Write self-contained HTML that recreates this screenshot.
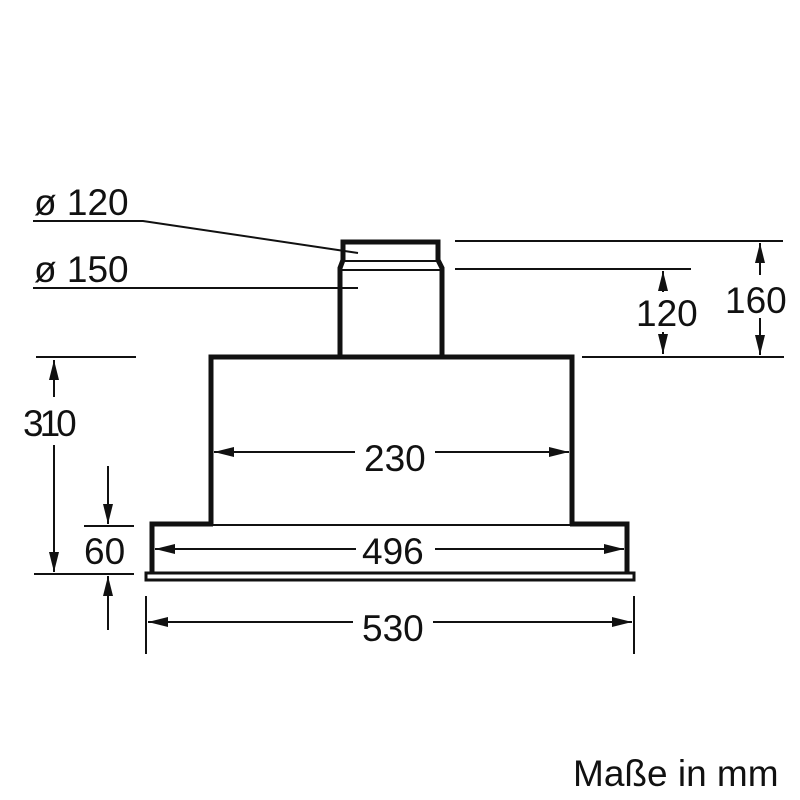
<!DOCTYPE html>
<html><head><meta charset="utf-8"><style>
html,body{margin:0;padding:0;background:#fff;}
svg{display:block}
text{font-family:"Liberation Sans",Arial,sans-serif;fill:#111;}
</style></head><body>
<svg width="800" height="800" viewBox="0 0 800 800" xmlns="http://www.w3.org/2000/svg">
<defs>
<marker id="a" viewBox="0 0 20 10" refX="20" refY="5" markerWidth="20" markerHeight="10" markerUnits="userSpaceOnUse" orient="auto-start-reverse"><path d="M0,0 L20,5 L0,10 z" fill="#111"/></marker>
</defs>
<g stroke="#111" fill="none">
<path d="M343,260 L343,242 L438,242 L438,260 L442,268 L442,357" stroke-width="5"/>
<path d="M343,260 L340,268 L340,357" stroke-width="5"/>
<line x1="343" y1="261" x2="438" y2="261" stroke-width="2"/>
<line x1="342" y1="270" x2="441" y2="270" stroke-width="2"/>
<path d="M211,524 L211,357 L572,357 L572,524" stroke-width="5"/>
<line x1="211" y1="357" x2="572" y2="357" stroke-width="2"/>
<path d="M152,573 L152,524 L213,524 M570,524 L627,524 L627,573" stroke-width="5"/>
<line x1="213" y1="525" x2="570" y2="525" stroke-width="2"/>
<rect x="146" y="573" width="488" height="7" stroke-width="3"/>
<line x1="152" y1="573" x2="627" y2="573" stroke-width="2"/>
<polyline points="33,221 143,221 358,253" stroke-width="2"/>
<line x1="33" y1="288" x2="358" y2="288" stroke-width="2"/>
<line x1="455" y1="241" x2="783" y2="241" stroke-width="2"/>
<line x1="455" y1="269" x2="691" y2="269" stroke-width="2"/>
<line x1="582" y1="357" x2="784" y2="357" stroke-width="2"/>
<line x1="36" y1="357" x2="136" y2="357" stroke-width="2"/>
<line x1="84" y1="526" x2="134" y2="526" stroke-width="2"/>
<line x1="34" y1="574" x2="134" y2="574" stroke-width="2"/>
<line x1="146" y1="596" x2="146" y2="654" stroke-width="2"/>
<line x1="634" y1="596" x2="634" y2="654" stroke-width="2"/>
<g stroke-width="2" marker-end="url(#a)">
<line x1="663" y1="292" x2="663" y2="271"/>
<line x1="663" y1="332" x2="663" y2="354"/>
<line x1="760" y1="275" x2="760" y2="243"/>
<line x1="760" y1="318" x2="760" y2="355"/>
<line x1="54" y1="397" x2="54" y2="360"/>
<line x1="54" y1="445" x2="54" y2="572"/>
<line x1="108" y1="466" x2="108" y2="524"/>
<line x1="108" y1="630" x2="108" y2="576"/>
<line x1="355" y1="452" x2="214" y2="452"/>
<line x1="435" y1="452" x2="569" y2="452"/>
<line x1="356" y1="549" x2="155" y2="549"/>
<line x1="435" y1="549" x2="624" y2="549"/>
<line x1="353" y1="622" x2="148" y2="622"/>
<line x1="433" y1="622" x2="632" y2="622"/>
</g>
</g>
<g font-size="37">
<text x="34" y="215">ø 120</text>
<text x="34" y="282">ø 150</text>
<text x="636" y="326">120</text>
<text x="725" y="313">160</text>
<text x="23" y="436" letter-spacing="-4">310</text>
<text x="84" y="564">60</text>
<text x="364" y="471">230</text>
<text x="362" y="564">496</text>
<text x="362" y="641">530</text>
<text x="573" y="786">Maße in mm</text>
</g>
</svg>
</body></html>
